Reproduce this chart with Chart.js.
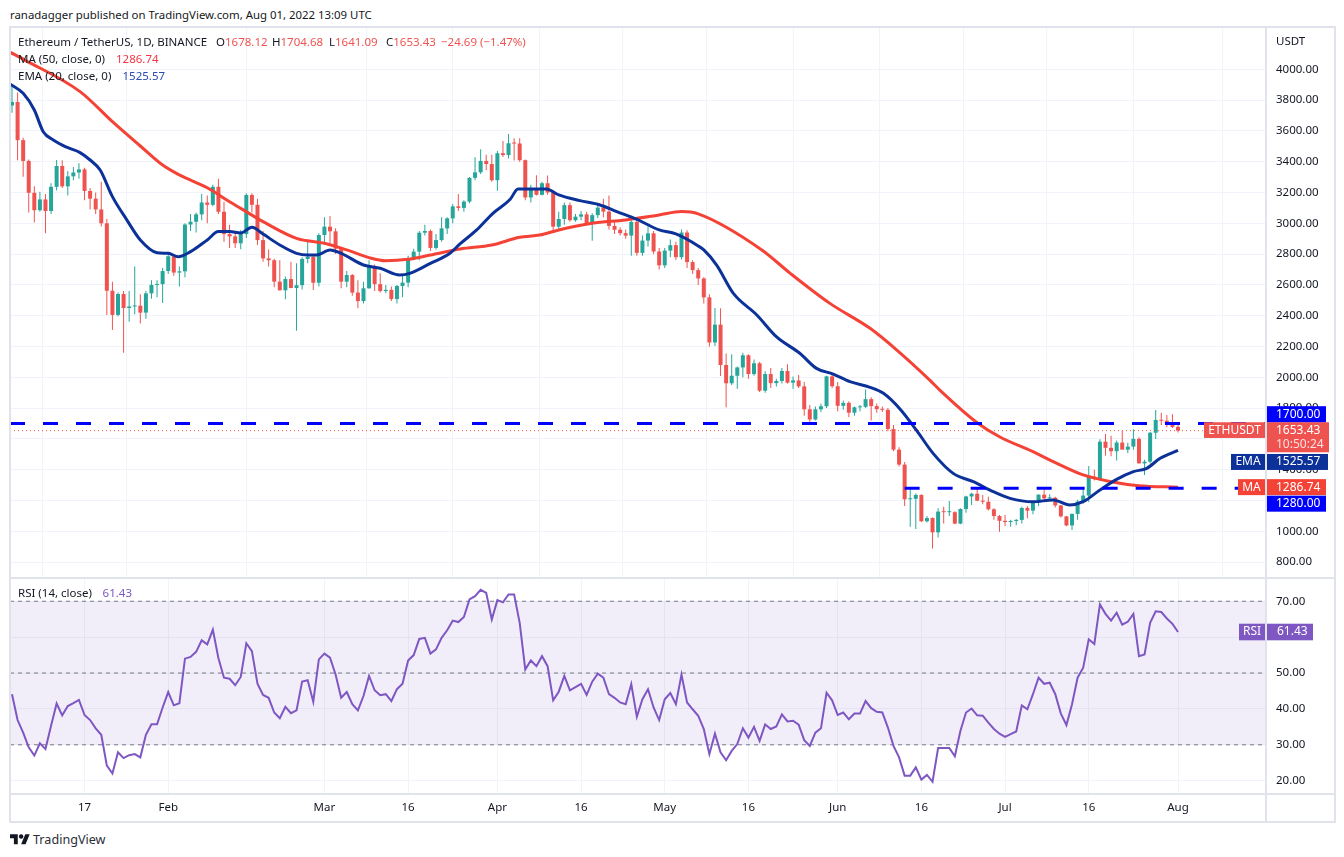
<!DOCTYPE html>
<html><head><meta charset="utf-8">
<script src="https://cdn.jsdelivr.net/npm/chart.js@4.4.1/dist/chart.umd.min.js"></script>
<style>
html,body{margin:0;padding:0;background:#fff;}
body{width:1344px;height:857px;position:relative;overflow:hidden;font-family:"Noto Sans",sans-serif;color:#131722;}
.t{position:absolute;white-space:nowrap;line-height:16px;font-size:11.5px;z-index:5;}
.r{color:#ef5350;}
canvas{position:absolute;}
.ln{position:absolute;background:#e0e3eb;z-index:6;}
</style></head><body>

<div class="t" style="left:10px;top:6.8px;font-size:11.4px;">ranadagger published on TradingView.com, Aug 01, 2022 13:09 UTC</div>

<canvas id="price" width="1325" height="551" style="left:10px;top:27px;width:1325px;height:551px"></canvas>
<canvas id="rsi" width="1325" height="243" style="left:10px;top:579px;width:1325px;height:243px"></canvas>

<div class="ln" style="left:9px;top:26px;width:1327px;height:2px"></div>
<div class="ln" style="left:9px;top:821px;width:1327px;height:2px"></div>
<div class="ln" style="left:9px;top:26px;width:2px;height:797px"></div>
<div class="ln" style="left:1334px;top:26px;width:2px;height:797px"></div>
<div class="ln" style="left:9px;top:577px;width:1327px;height:2px"></div>
<div class="ln" style="left:9px;top:793px;width:1327px;height:2px"></div>
<div class="ln" style="left:1265px;top:26px;width:2px;height:797px"></div>

<div class="t" style="left:18px;top:34.3px">Ethereum / TetherUS, 1D, BINANCE</div>
<div class="t" style="left:216px;top:34.3px">O<span class="r">1678.12</span></div>
<div class="t" style="left:272px;top:34.3px">H<span class="r">1704.68</span></div>
<div class="t" style="left:329px;top:34.3px">L<span class="r">1641.09</span></div>
<div class="t" style="left:386px;top:34.3px">C<span class="r">1653.43</span></div>
<div class="t r" style="left:441px;top:34.3px">−24.69 (−1.47%)</div>
<div class="t" style="left:18px;top:51px">MA (50, close, 0)</div>
<div class="t" style="left:116px;top:51px;color:#f23645">1286.74</div>
<div class="t" style="left:18px;top:67.6px">EMA (20, close, 0)</div>
<div class="t" style="left:122.5px;top:67.6px;color:#2a4bb0">1525.57</div>
<div class="t" style="left:18px;top:585.3px">RSI (14, close)</div>
<div class="t" style="left:102.6px;top:585.3px;color:#7e57c2">61.43</div>
<div class="t" style="left:1276px;top:33.3px">USDT</div>

<svg style="position:absolute;left:10px;top:831.8px" width="20" height="15.6" viewBox="0 0 36 28"><path fill="#131722" d="M14 22H7V11H0V4h14v18zM28 22h-8l7.5-18h8L28 22z"/><circle fill="#131722" cx="20" cy="8" r="4"/></svg>
<div class="t" style="left:33px;top:830.5px;font-size:12.6px;line-height:18px;color:#2a2e39">TradingView</div>

<script>
// ---- data (day index 0 = 2022-01-04, daily candles to 2022-08-01) ----
const opens = [3765,3788,3540,3405,3198,3085,3155,3080,3237,3372,3240,3305,3330,3350,3210,3160,3090,3000,2562,2405,2541,2450,2460,2465,2420,2545,2600,2605,2690,2786,2680,2688,2992,3010,3058,3135,3120,3237,3075,2930,2915,2870,2930,3184,3120,2891,2772,2760,2621,2565,2638,2580,2598,2768,2783,2614,2924,2978,2948,2835,2621,2664,2550,2495,2578,2723,2605,2560,2568,2508,2593,2615,2766,2816,2939,2950,2840,2891,2967,3032,3110,3100,3141,3295,3331,3405,3385,3280,3455,3443,3520,3518,3410,3168,3227,3185,3260,3200,2978,3028,3118,3020,3043,3058,3000,3053,3102,3076,2983,2958,2936,2920,3009,2808,2888,2935,2817,2727,2823,2858,2780,2940,2748,2696,2642,2519,2226,2342,2080,1961,2010,2064,2143,2021,2091,1913,2021,1962,1976,2041,1965,1980,1941,1792,1726,1792,1812,2006,1942,1815,1834,1770,1805,1808,1858,1813,1793,1789,1664,1530,1433,1208,1211,1236,1065,1086,993,1128,1124,1124,1050,1145,1226,1244,1199,1192,1143,1099,1068,1060,1067,1074,1151,1134,1187,1238,1214,1218,1168,1097,1038,1113,1193,1232,1355,1339,1582,1542,1520,1576,1530,1550,1600,1441,1452,1640,1723,1718,1695,1678.12];
const highs = [3900,3850,3555,3415,3240,3205,3190,3260,3411,3410,3340,3365,3390,3360,3230,3200,3270,3030,2620,2550,2560,2560,2720,2540,2560,2630,2630,2710,2815,2800,2720,3000,3060,3070,3190,3180,3250,3290,3140,2990,2950,2957,3195,3195,3160,2950,2830,2770,2760,2655,2751,2740,2780,2880,2800,2935,3039,3048,2968,2845,2690,2670,2630,2620,2760,2732,2675,2600,2590,2600,2670,2790,2835,2950,2990,2960,2930,3040,3040,3125,3190,3150,3300,3429,3481,3445,3445,3470,3535,3580,3552,3552,3415,3250,3312,3270,3310,3210,3075,3135,3135,3060,3080,3075,3065,3130,3160,3180,3010,2975,2960,3030,3040,2920,2980,2950,2840,2840,2895,2880,2960,2955,2760,2710,2650,2540,2450,2448,2155,2150,2070,2160,2150,2115,2100,2040,2060,1990,2060,2085,2005,2015,1970,1820,1810,1830,2010,2020,1970,1850,1845,1810,1820,1920,1870,1830,1810,1800,1690,1545,1450,1272,1245,1240,1100,1090,1150,1160,1197,1130,1150,1230,1250,1279,1235,1225,1150,1105,1105,1075,1080,1160,1165,1195,1240,1272,1240,1225,1170,1100,1115,1205,1280,1424,1400,1597,1632,1620,1590,1653,1575,1662,1610,1465,1645,1788,1770,1755,1760,1704.68];
const lows = [3718,3410,3303,3070,3005,3075,2935,3060,3215,3230,3180,3280,3290,3150,3090,3060,2980,2405,2307,2395,2160,2360,2410,2350,2380,2510,2520,2483,2670,2660,2590,2650,2950,2940,3020,3000,3110,3060,2880,2840,2840,2831,2905,3070,2859,2751,2720,2584,2563,2506,2578,2303,2570,2740,2567,2590,2860,2870,2800,2578,2585,2530,2448,2480,2575,2560,2550,2545,2495,2480,2520,2585,2760,2760,2920,2820,2830,2880,2930,3000,3080,3075,3130,3280,3320,3345,3270,3212,3430,3420,3408,3400,3150,3135,3180,3180,3185,2950,2950,2990,3010,3010,3020,2990,2887,3035,3040,2960,2930,2920,2900,2790,2790,2790,2850,2800,2700,2710,2780,2762,2765,2710,2670,2600,2480,2200,2203,2008,1805,1950,1925,2000,1990,2010,1905,1900,1930,1940,1960,1960,1925,1930,1750,1700,1720,1775,1800,1930,1780,1790,1740,1750,1780,1800,1720,1770,1775,1650,1520,1420,1164,1030,1015,1060,1057,889,960,1050,1100,1045,1045,1120,1170,1195,1175,1135,1075,997,1035,1030,1040,1050,1085,1110,1165,1200,1198,1155,1090,1032,1008,1075,1180,1190,1330,1330,1490,1488,1460,1535,1507,1530,1440,1366,1440,1600,1690,1675,1670,1641.09];
const closes = [3788,3540,3405,3198,3085,3155,3080,3237,3372,3240,3305,3330,3350,3210,3160,3090,3000,2562,2405,2541,2450,2460,2465,2420,2545,2600,2605,2690,2786,2680,2688,2992,3010,3058,3135,3120,3237,3075,2930,2915,2870,2930,3184,3120,2891,2772,2760,2621,2565,2638,2580,2598,2768,2783,2614,2924,2978,2948,2835,2621,2664,2550,2495,2578,2723,2605,2560,2568,2508,2593,2615,2766,2816,2939,2950,2840,2891,2967,3032,3110,3100,3141,3295,3331,3405,3385,3280,3455,3443,3520,3518,3410,3168,3227,3185,3260,3200,2978,3028,3118,3020,3043,3058,3000,3053,3102,3076,2983,2958,2936,2920,3009,2808,2888,2935,2817,2727,2823,2858,2780,2940,2748,2696,2642,2519,2226,2342,2080,1961,2010,2064,2143,2021,2091,1913,2021,1962,1976,2041,1965,1980,1941,1792,1726,1792,1812,2006,1942,1815,1834,1770,1805,1808,1858,1813,1793,1789,1664,1530,1433,1208,1211,1236,1065,1086,993,1128,1124,1124,1050,1145,1226,1244,1199,1192,1143,1099,1068,1060,1067,1074,1151,1134,1187,1238,1214,1218,1168,1097,1038,1113,1193,1232,1355,1339,1582,1542,1520,1576,1530,1550,1600,1441,1452,1640,1723,1718,1695,1678,1653.43];

const maDays   = [-0.4,2.3,12.2,18,23,27,30,35,39,41,45,51,56,60,64,67,71,75,80.3,86,91,94.6,98,104,110,116,120,123,134.4,139.5,146.6,153.8,158.6,164.5,166.3,173,177,183,187,192,197,202,209];
const maValues = [4112,4060,3855,3660,3502,3378,3314,3231,3140,3097,3011,2902,2870,2827,2777,2757,2766,2794,2833,2859,2909,2924,2957,3000,3022,3054,3076,3061,2827,2675,2480,2318,2177,1982,1917,1705,1614,1517,1446,1366,1322,1296,1286.74];
const emaDays   = [-0.36,2,4,5.6,7.4,9.8,12.2,14,15.8,18,20.6,23,26,28,29.8,32,35,37,39,41,43,45,48,51,53,54.6,57,59,63,66,69.5,71.3,75,78.5,80.3,83.3,86.2,89.3,90.7,93.4,95.8,98,101.8,105.4,108.4,112,116,119,123,124,126.3,129.3,133.5,137,141.2,144.2,147.2,150.2,153.8,156.2,159.2,162.2,165.1,168.7,172.3,175.9,178.9,183,186.6,189.6,192,195,198,201,203.4,205.8,209];
const emaValues = [3905,3844,3736,3595,3541,3494,3459,3411,3346,3173,3021,2892,2809,2805,2783,2816,2892,2946,2946,2937,2974,2930,2859,2805,2794,2794,2827,2805,2729,2708,2664,2675,2740,2805,2866,2957,3065,3156,3223,3223,3223,3184,3147,3119,3076,3026,2957,2931,2853,2827,2729,2545,2405,2264,2156,2058,2021,1972,1935,1896,1793,1652,1506,1376,1322,1257,1214,1192,1203,1171,1192,1268,1337,1387,1409,1474,1525.57];

const rsiValues = [44.1,36.9,33.4,29.3,27.0,30.4,28.8,35.3,41.5,38.2,40.8,41.6,42.5,38.3,36.9,34.6,32.8,24.2,22.0,27.9,26.3,27.1,27.4,26.5,32.8,35.7,35.7,40.4,44.7,41.0,41.6,54.0,54.5,55.9,59.1,58.0,62.1,54.1,48.7,48.4,46.6,48.9,58.3,56.1,47.0,43.9,43.1,39.0,37.4,40.6,38.8,39.6,47.6,48.0,42.0,53.8,55.4,54.3,49.6,43.1,44.7,41.3,39.6,43.6,49.2,45.2,43.8,44.1,42.2,45.5,47.0,53.5,55.0,59.5,59.8,55.4,56.6,59.8,61.9,64.6,64.2,65.6,70.5,71.4,73.2,72.3,64.9,70.3,69.7,71.9,71.9,64.0,51.0,53.5,51.9,54.7,51.9,42.4,44.8,49.2,45.2,46.1,47.0,43.9,47.6,49.8,48.7,44.1,43.1,41.8,41.3,46.9,37.8,42.7,45.5,40.4,36.9,42.7,44.4,41.3,49.6,41.8,39.9,38.1,34.4,27.4,33.1,27.9,25.7,28.3,30.2,34.6,32.0,35.0,31.1,35.7,34.4,35.1,38.5,36.5,36.7,35.6,31.3,29.7,33.4,34.6,44.5,42.4,38.3,39.0,37.1,38.7,38.7,42.2,40.2,39.2,39.0,34.8,29.7,26.5,21.4,21.4,23.7,20.3,21.6,19.7,29.1,29.1,29.1,26.8,33.9,39.0,40.1,38.2,38.1,36.2,34.4,33.1,32.2,33.0,33.7,41.0,39.9,44.1,48.7,47.0,47.3,44.1,38.7,35.5,41.3,48.7,51.5,59.4,58.1,69.1,66.5,64.6,66.8,63.5,64.3,66.5,54.7,55.2,64.0,67.2,67.0,65.2,63.7,61.43];

const xTickDays   = [13,28,56,71,87,102,117,132,148,163,178,193,209];
const xTickLabels = ['17','Feb','Mar','16','Apr','16','May','16','Jun','16','Jul','16','Aug'];
const priceTicks  = [800,1000,1200,1400,1600,1800,2000,2200,2400,2600,2800,3000,3200,3400,3600,3800,4000];
const rsiTicks    = [20,30,40,50,60,70];
const resistance = 1700, support = 1280, supportStartDay = 160;
const rsiLevels = [70,50,30];

// ---- styling ----
const UP='#26a69a', DOWN='#ef5350', EMA_C='#0c3299', MA_C='#f44336', LVL='#0000ff', RSI_C='#7e57c2';
const FONT='"Noto Sans", sans-serif';
const X_MIN=-0.3585, X_MAX=224.77;
Chart.defaults.font.family = FONT;
Chart.defaults.animation = false;

const lastClose = closes[closes.length-1];
const lastRsi = rsiValues[rsiValues.length-1];
const pts = (xs, ys) => xs.map((x,i)=>({x, y:ys[i]}));
const candleColor = c => (closes[c.dataIndex] >= opens[c.dataIndex] ? UP : DOWN);

function xScale(showLabels){
  return {
    type:'linear', min:X_MIN, max:X_MAX, offset:false,
    afterBuildTicks: s => { s.ticks = xTickDays.map(v=>({value:v})); },
    afterFit: s => { s.height = showLabels ? 28 : 0; s.paddingLeft = 0; s.paddingRight = 0; },
    ticks:{ display:showLabels, autoSkip:false, maxRotation:0, padding:7, color:'#131722', font:{size:11.5},
            callback:(v,i)=>xTickLabels[i] },
    grid:{ color:'#f0f3fa', drawTicks:false, lineWidth:1 },
    border:{ display:false }
  };
}
function yScale(min, max, ticks){
  return {
    position:'right', min, max,
    afterBuildTicks: s => { s.ticks = ticks.map(v=>({value:v})); },
    afterFit: s => { s.width = 69; s.paddingTop = 0; s.paddingBottom = 0; },
    ticks:{ autoSkip:false, padding:10, color:'#131722', font:{size:11.5}, callback:v=>Number(v).toFixed(2) },
    grid:{ color:'#f0f3fa', drawTicks:false, lineWidth:1 },
    border:{ display:false }
  };
}
function box(ctx,x,y,w,h,bg){ ctx.fillStyle=bg; ctx.fillRect(x,y,w,h); }
function txt(ctx,s,x,y,color,align){ ctx.font='12px '+FONT; ctx.fillStyle=color; ctx.textAlign=align||'left'; ctx.textBaseline='middle'; ctx.fillText(s,x,y); }

const priceTags = {
  id:'priceTags',
  afterDraw(chart){
    const {ctx, chartArea:ca, scales:{y}} = chart; const L = ca.right;
    ctx.save();
    let yc = y.getPixelForValue(resistance) - 9.3;
    box(ctx,L,yc-8,60,16.3,LVL); txt(ctx,resistance.toFixed(2),L+10,yc+0.5,'#fff');
    yc = y.getPixelForValue(lastClose);
    box(ctx,L-62,yc-8.4,61,15.7,DOWN); txt(ctx,'ETHUSDT',L-31.5,yc,'#fff','center');
    box(ctx,L,yc-8.4,63,30,DOWN); txt(ctx,lastClose.toFixed(2),L+10,yc,'#fff'); txt(ctx,'10:50:24',L+10,yc+14.3,'rgba(255,255,255,0.82)');
    const emaLast = emaValues[emaValues.length-1];
    yc = y.getPixelForValue(emaLast) + 11.6;
    box(ctx,L-35,yc-8,34,16,EMA_C); txt(ctx,'EMA',L-18,yc,'#fff','center');
    box(ctx,L,yc-8,62,16,EMA_C); txt(ctx,emaLast.toFixed(2),L+10,yc,'#fff');
    const maLast = maValues[maValues.length-1];
    yc = y.getPixelForValue(maLast);
    box(ctx,L-28,yc-8,27,16,MA_C); txt(ctx,'MA',L-14.5,yc,'#fff','center');
    box(ctx,L,yc-8,60,16,MA_C); txt(ctx,maLast.toFixed(2),L+10,yc,'#fff');
    yc = y.getPixelForValue(support) + 15.5;
    box(ctx,L,yc-8,60,16,LVL); txt(ctx,support.toFixed(2),L+10,yc,'#fff');
    ctx.restore();
  }
};
const rsiTags = {
  id:'rsiTags',
  afterDraw(chart){
    const {ctx, chartArea:ca, scales:{y}} = chart; const L = ca.right;
    ctx.save();
    const yc = y.getPixelForValue(lastRsi);
    box(ctx,L-27,yc-8.3,26,16.6,RSI_C); txt(ctx,'RSI',L-14,yc,'#fff','center');
    box(ctx,L+1,yc-8.3,46,16.6,RSI_C); txt(ctx,lastRsi.toFixed(2),L+11,yc,'#fff');
    ctx.restore();
  }
};

const days = closes.map((_,i)=>i);
new Chart(document.getElementById('price'), {
  type:'bar',
  data:{ datasets:[
    {type:'line', data:pts([X_MIN,X_MAX],[resistance,resistance]), borderColor:LVL, borderWidth:3, borderDash:[15,18], pointRadius:0},
    {type:'line', data:pts([supportStartDay,X_MAX],[support,support]), borderColor:LVL, borderWidth:3, borderDash:[15,18], pointRadius:0},
    {type:'line', data:pts(emaDays,emaValues), borderColor:EMA_C, borderWidth:3, pointRadius:0, cubicInterpolationMode:'monotone'},
    {type:'line', data:pts(maDays,maValues), borderColor:MA_C, borderWidth:3, pointRadius:0, cubicInterpolationMode:'monotone'},
    {type:'line', data:pts([X_MIN,X_MAX],[lastClose,lastClose]), borderColor:DOWN, borderWidth:1, borderDash:[1,3], pointRadius:0},
    {type:'bar', data:days.map(i=>({x:i, y:[opens[i],closes[i]]})), backgroundColor:candleColor, barThickness:4, minBarLength:1, grouped:false, inflateAmount:0},
    {type:'bar', data:days.map(i=>({x:i, y:[lows[i],highs[i]]})), backgroundColor:candleColor, barThickness:1, grouped:false, inflateAmount:0}
  ]},
  options:{
    responsive:false, maintainAspectRatio:false, devicePixelRatio:1,
    layout:{padding:0},
    plugins:{legend:{display:false}, tooltip:{enabled:false}},
    events:[],
    scales:{ x:xScale(false), y:yScale(696.7,4274.7,priceTicks) }
  },
  plugins:[priceTags]
});

new Chart(document.getElementById('rsi'), {
  type:'line',
  data:{ datasets:[
    {data:pts(days,rsiValues), borderColor:RSI_C, borderWidth:2, pointRadius:0, tension:0},
    ...rsiLevels.map(v=>({data:pts([X_MIN,X_MAX],[v,v]), borderColor:'#787b86', borderWidth:1, borderDash:[4,4], pointRadius:0})),
    {data:pts([X_MIN,X_MAX],[rsiLevels[0],rsiLevels[0]]), fill:{value:rsiLevels[2]}, backgroundColor:'rgba(126,87,194,0.1)', borderWidth:0, pointRadius:0}
  ]},
  options:{
    responsive:false, maintainAspectRatio:false, devicePixelRatio:1,
    layout:{padding:0},
    plugins:{legend:{display:false}, tooltip:{enabled:false}},
    events:[],
    scales:{ x:xScale(true), y:yScale(16.29,76.2,rsiTicks) }
  },
  plugins:[rsiTags]
});
</script>
</body></html>
